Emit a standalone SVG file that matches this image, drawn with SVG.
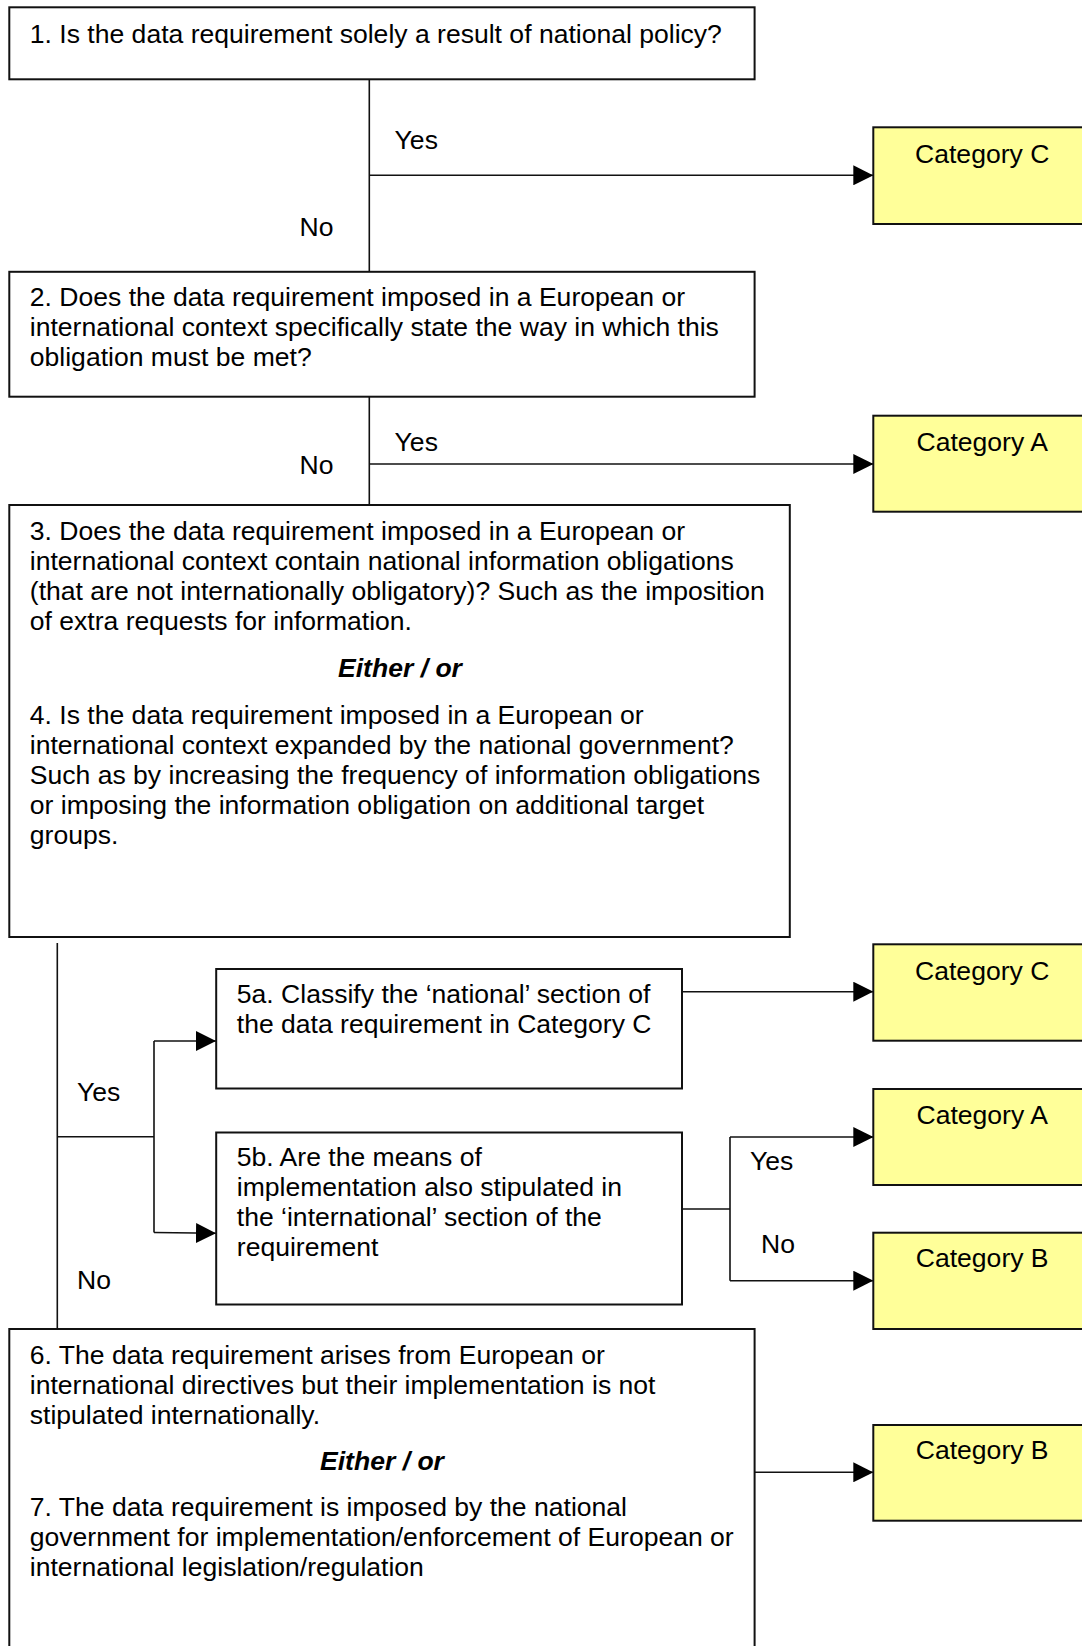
<svg xmlns="http://www.w3.org/2000/svg" width="1082" height="1646" viewBox="0 0 1082 1646">
<style>
text { font-family: "Liberation Sans", Arial, sans-serif; font-size: 26.55px; fill: #000; }
.box { fill: #fff; stroke: #111; stroke-width: 2; }
.cat { fill: #ffff99; stroke: #111; stroke-width: 2; }
.ln { fill: none; stroke: #111; stroke-width: 1.6; }
.eo { font-weight: bold; font-style: italic; text-anchor: middle; }
.ct { text-anchor: middle; }
</style>
<defs>
<marker id="ah" markerUnits="userSpaceOnUse" markerWidth="20" markerHeight="20" refX="20" refY="10" orient="auto">
<path d="M0,0 L20,10 L0,20 z" fill="#000"/>
</marker>
</defs>
<rect width="1082" height="1646" fill="#fff"/>

<g id="connectors">
<path class="ln" d="M369.3,79 V272"/>
<path class="ln" d="M369.3,175.3 H873.3" marker-end="url(#ah)"/>
<path class="ln" d="M369.3,396.7 V505"/>
<path class="ln" d="M369.3,464 H873.3" marker-end="url(#ah)"/>
<path class="ln" d="M57.3,943 V1329"/>
<path class="ln" d="M57.3,1136.7 H154 M154,1041 V1232.5"/>
<path class="ln" d="M154,1041 H216" marker-end="url(#ah)"/>
<path class="ln" d="M154,1232.5 L216,1233.3" marker-end="url(#ah)"/>
<path class="ln" d="M682,991.7 H873.3" marker-end="url(#ah)"/>
<path class="ln" d="M682,1209 H730 M730,1137 V1280.7"/>
<path class="ln" d="M730,1137 H873.3" marker-end="url(#ah)"/>
<path class="ln" d="M730,1280.7 H873.3" marker-end="url(#ah)"/>
<path class="ln" d="M754.6,1472.3 H873.3" marker-end="url(#ah)"/>
<text x="394.6" y="149">Yes</text>
<text x="299.5" y="236">No</text>
<text x="394.6" y="451">Yes</text>
<text x="299.5" y="473.5">No</text>
<text x="77" y="1101">Yes</text>
<text x="77" y="1288.5">No</text>
<text x="750" y="1170">Yes</text>
<text x="761" y="1252.5">No</text>
</g>

<g id="q1">
<rect class="box" x="9.3" y="7.3" width="745.3" height="72"/>
<text x="29.8" y="42.7">1. Is the data requirement solely a result of national policy?</text>
</g>

<g id="q2">
<rect class="box" x="9.3" y="271.8" width="745.3" height="124.9"/>
<text x="29.8" y="306">2. Does the data requirement imposed in a European or</text>
<text x="29.8" y="336">international context specifically state the way in which this</text>
<text x="29.8" y="366">obligation must be met?</text>
</g>

<g id="q3-4">
<rect class="box" x="9.3" y="505" width="780.5" height="432"/>
<text x="29.8" y="540">3. Does the data requirement imposed in a European or</text>
<text x="29.8" y="570">international context contain national information obligations</text>
<text x="29.8" y="600">(that are not internationally obligatory)? Such as the imposition</text>
<text x="29.8" y="630">of extra requests for information.</text>
<text class="eo" x="400" y="677">Either / or</text>
<text x="29.8" y="723.5">4. Is the data requirement imposed in a European or</text>
<text x="29.8" y="753.5">international context expanded by the national government?</text>
<text x="29.8" y="783.5">Such as by increasing the frequency of information obligations</text>
<text x="29.8" y="813.5">or imposing the information obligation on additional target</text>
<text x="29.8" y="843.5">groups.</text>
</g>

<g id="q5a">
<rect class="box" x="216.2" y="969" width="465.8" height="119.5"/>
<text x="236.8" y="1003.3">5a. Classify the ‘national’ section of</text>
<text x="236.8" y="1033.3">the data requirement in Category C</text>
</g>

<g id="q5b">
<rect class="box" x="216.2" y="1132.5" width="465.8" height="172"/>
<text x="236.8" y="1166.3">5b. Are the means of</text>
<text x="236.8" y="1196.3">implementation also stipulated in</text>
<text x="236.8" y="1226.3">the ‘international’ section of the</text>
<text x="236.8" y="1256.3">requirement</text>
</g>

<g id="q6-7">
<rect class="box" x="9.3" y="1329" width="745.3" height="340"/>
<text x="29.8" y="1363.5">6. The data requirement arises from European or</text>
<text x="29.8" y="1393.5">international directives but their implementation is not</text>
<text x="29.8" y="1423.5">stipulated internationally.</text>
<text class="eo" x="382" y="1469.5">Either / or</text>
<text x="29.8" y="1515.5">7. The data requirement is imposed by the national</text>
<text x="29.8" y="1545.5">government for implementation/enforcement of European or</text>
<text x="29.8" y="1575.5">international legislation/regulation</text>
</g>

<g id="catC1">
<rect class="cat" x="873.3" y="127.3" width="220" height="96.7"/>
<text class="ct" x="982.2" y="162.7">Category C</text>
</g>
<g id="catA1">
<rect class="cat" x="873.3" y="415.7" width="220" height="96"/>
<text class="ct" x="982.2" y="450.7">Category A</text>
</g>
<g id="catC2">
<rect class="cat" x="873.3" y="944.3" width="220" height="96.4"/>
<text class="ct" x="982.2" y="979.8">Category C</text>
</g>
<g id="catA2">
<rect class="cat" x="873.3" y="1089" width="220" height="96"/>
<text class="ct" x="982.2" y="1124">Category A</text>
</g>
<g id="catB1">
<rect class="cat" x="873.3" y="1232.7" width="220" height="96.3"/>
<text class="ct" x="982.2" y="1266.5">Category B</text>
</g>
<g id="catB2">
<rect class="cat" x="873.3" y="1425" width="220" height="95.7"/>
<text class="ct" x="982.2" y="1458.5">Category B</text>
</g>
</svg>
